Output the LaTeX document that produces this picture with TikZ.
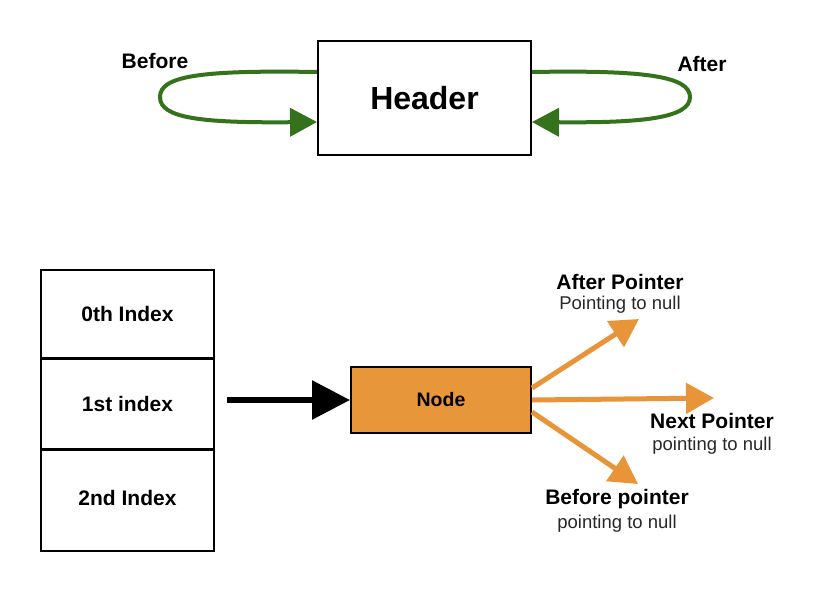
\documentclass[tikz,border=0pt]{standalone}
\usepackage{fontspec}
\setmainfont{Liberation Sans}
\usetikzlibrary{arrows.meta,calc}
\definecolor{grn}{RGB}{52,115,28}
\definecolor{org}{RGB}{232,148,56}
\definecolor{orgfill}{RGB}{232,150,58}
\definecolor{txtgray}{RGB}{40,40,40}
\tikzset{
  box/.style={draw=black, line width=2pt, inner sep=0pt},
  lbl/.style={font=\fontsize{21}{24}\selectfont\bfseries, text=black, inner sep=0pt},
  sub/.style={font=\fontsize{18.5}{21}\selectfont, text=txtgray, inner sep=0pt},
  loop/.style={draw=grn, line width=4pt, -{Triangle[length=27pt,width=28pt]}},
  optr/.style={draw=org, line width=5pt, -{Triangle[length=28pt,width=30pt]}},
}
\begin{document}
\begin{tikzpicture}[x=1pt,y=-1pt]
\useasboundingbox (0,0) rectangle (827,600);
\fill[white] (0,0) rectangle (827,600);
% header
\node[box, minimum width=213pt, minimum height=114pt] (hdr) at (424.5,98) {\fontsize{32}{37}\selectfont\bfseries Header};
\coordinate (bstart) at (hdr.west |- 0,72);
\coordinate (bend) at (hdr.west |- 0,122);
\coordinate (astart) at (hdr.east |- 0,72);
\coordinate (aend) at (hdr.east |- 0,122);
\draw[loop] (bstart) .. controls (200,70) and (160,76) .. (160,97) .. controls (160,118) and (200,123) .. (bend);
\draw[loop] (astart) .. controls (643,70) and (690,76) .. (690,97) .. controls (690,118) and (643,123) .. (aend);
\node[lbl] (before) at (155,61) {Before};
\node[lbl] (after) at (702,64) {After};
% array
\node[box, line width=1.6pt, minimum width=173pt, minimum height=88pt] (i0) at (127.5,314) {};
\node[box, line width=1.6pt, minimum width=173pt, minimum height=89pt, anchor=north] (i1) at (i0.south) {};
\node[box, line width=1.6pt, minimum width=173pt, minimum height=101pt, anchor=north] (i2) at (i1.south) {};
\node[lbl] at (i0) {0th Index};
\node[lbl] at (i1) {1st index};
\node[lbl] at ($(i2.center)+(0,-3)$) {2nd Index};
% node
\node[draw=black, line width=2pt, fill=orgfill, minimum width=180pt, minimum height=66pt, inner sep=0pt] (nd) at (441,400) {\fontsize{19.5}{22}\selectfont\bfseries Node};
\coordinate (astartb) at (227,400);
\draw[line width=6pt, -{Triangle[length=38pt,width=38pt]}] (astartb) -- (nd.west);
% pointers
\coordinate (ptA) at (639,319);
\coordinate (ptN) at (714,398);
\coordinate (ptB) at (638,484);
\draw[optr] ($(nd.east)+(0,-12)$) -- (ptA);
\draw[optr] (nd.east) -- (ptN);
\draw[optr] ($(nd.east)+(0,12)$) -- (ptB);
\node[lbl] (aptr) at (620,282) {After Pointer};
\node[sub] (aptrs) at (620,305) {Pointing to null};
\node[lbl] (nptr) at (712,421) {Next Pointer};
\node[sub] (nptrs) at (712,446) {pointing to null};
\node[lbl] (bptr) at (617,499) {Before pointer};
\node[sub] (bptrs) at (617,524) {pointing to null};
\end{tikzpicture}
\end{document}
